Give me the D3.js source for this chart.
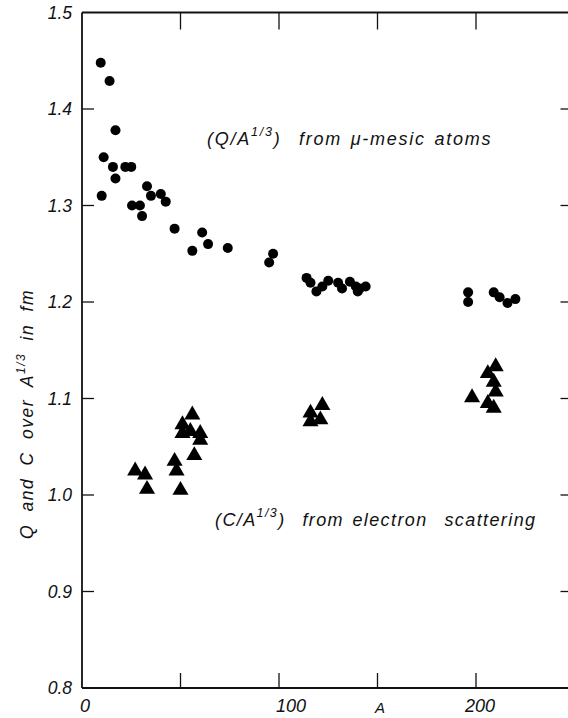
<!DOCTYPE html>
<html>
<head>
<meta charset="utf-8">
<script src="https://cdn.jsdelivr.net/npm/d3@7"></script>
<style>
  body { margin: 0; background: #fff; }
  svg { display: block; }
  text { font-family: "Liberation Sans", Arial, sans-serif; font-style: italic; fill: #111; white-space: pre; }
</style>
</head>
<body>
<svg id="chart" width="568" height="718"></svg>
<script>
// Q/A^(1/3) from mu-mesic atoms
const qMass = [9.5, 14, 17, 11, 15.7, 17, 10, 22, 25, 33, 35, 40, 42.5, 25.4, 29.4, 30.5, 47, 61, 56, 64, 74, 97, 95,
               114, 116, 119, 122, 125, 130, 132, 136, 139, 140, 141, 144,
               196, 196, 209, 212, 216, 220];
const qValues = [1.448, 1.429, 1.378, 1.350, 1.340, 1.328, 1.310, 1.340, 1.340, 1.320, 1.310, 1.312, 1.304, 1.300, 1.300, 1.289, 1.276, 1.272, 1.253, 1.260, 1.256, 1.250, 1.241,
                 1.225, 1.220, 1.211, 1.216, 1.222, 1.220, 1.214, 1.221, 1.216, 1.211, 1.214, 1.216,
                 1.210, 1.200, 1.210, 1.205, 1.199, 1.203];
// C/A^(1/3) from electron scattering
const cMass = [56, 51, 51, 55, 60, 60, 57, 47, 48, 27, 32, 33, 50,
               116, 122, 121, 116,
               198, 210, 206, 209, 210, 206, 209];
const cValues = [1.083, 1.073, 1.064, 1.066, 1.064, 1.057, 1.041, 1.035, 1.025, 1.025, 1.021, 1.006, 1.005,
                 1.085, 1.093, 1.078, 1.076,
                 1.101, 1.133, 1.126, 1.117, 1.107, 1.095, 1.090];
const yTicks = [0.8, 0.9, 1.0, 1.1, 1.2, 1.3, 1.4, 1.5];
const yInnerTicks = [0.9, 1.0, 1.1, 1.2, 1.3, 1.4];
const xTicks = [50, 100, 150, 200];
const xTickLabels = [0, 100, 200];
const xLabelShift = [3, 12, 4];

const svg = d3.select("#chart");
svg.append("rect").attr("width", 568).attr("height", 718).attr("fill", "#fff");

const x = d3.scaleLinear().domain([0, 250]).range([82, 574.5]);
const y = d3.scaleLinear().domain([0.8, 1.5]).range([688, 12.5]);

const axisColor = "#111";
// frame
const frame = svg.append("g").attr("stroke", axisColor).attr("stroke-width", 1.8).attr("fill", "none");
frame.append("line").attr("x1", x(0)).attr("x2", x(250)).attr("y1", y(0.8)).attr("y2", y(0.8));
frame.append("line").attr("x1", x(0)).attr("x2", x(250)).attr("y1", y(1.5)).attr("y2", y(1.5));
frame.append("line").attr("x1", x(0)).attr("x2", x(0)).attr("y1", y(0.8)).attr("y2", y(1.5));
frame.append("line").attr("x1", x(250)).attr("x2", x(250)).attr("y1", y(0.8)).attr("y2", y(1.5));

// ticks (inward)
const ticks = svg.append("g").attr("stroke", axisColor).attr("stroke-width", 1.3);
yInnerTicks.forEach(v => {
  ticks.append("line").attr("x1", x(0)).attr("x2", x(0) + 12).attr("y1", y(v)).attr("y2", y(v));
  ticks.append("line").attr("x1", x(250)).attr("x2", x(250) - 14).attr("y1", y(v)).attr("y2", y(v));
});
xTicks.forEach(v => {
  ticks.append("line").attr("x1", x(v)).attr("x2", x(v)).attr("y1", y(0.8)).attr("y2", y(0.8) - 15);
  ticks.append("line").attr("x1", x(v)).attr("x2", x(v)).attr("y1", y(1.5)).attr("y2", y(1.5) + 17);
});

// tick labels
svg.append("g").selectAll("text").data(yTicks).join("text")
  .attr("x", 72).attr("y", d => y(d) + 6)
  .attr("text-anchor", "end").attr("font-size", 17.5)
  .text(d => d.toFixed(1));
svg.append("g").selectAll("text").data(xTickLabels).join("text")
  .attr("x", (d, i) => x(d) + xLabelShift[i]).attr("y", 712)
  .attr("text-anchor", "middle").attr("font-size", 18)
  .text(d => d);
svg.append("text").attr("x", 380).attr("y", 713).attr("text-anchor", "middle").attr("font-size", 15).text("A");

// y axis title
const yt = svg.append("text")
  .attr("transform", "translate(33,414) rotate(-90)")
  .attr("text-anchor", "middle").attr("font-size", 17.5)
  .attr("letter-spacing", 1.5).attr("word-spacing", 6);
yt.append("tspan").text("Q and C over A");
yt.append("tspan").attr("dy", -8).attr("font-size", 12).text("1/3");
yt.append("tspan").attr("dy", 8).text(" in fm");

// annotations
const a1 = svg.append("text").attr("x", 207).attr("y", 145).attr("font-size", 18)
  .attr("letter-spacing", 1.75).attr("word-spacing", 2);
a1.append("tspan").text("(Q/A");
a1.append("tspan").attr("dy", -9).attr("font-size", 12.5).text("1/3");
a1.append("tspan").attr("dy", 9).text(")  from \u03BC-mesic atoms");

const a2 = svg.append("text").attr("x", 215).attr("y", 526).attr("font-size", 18)
  .attr("letter-spacing", 1.4).attr("word-spacing", 2);
a2.append("tspan").text("(C/A");
a2.append("tspan").attr("dy", -9).attr("font-size", 12.5).text("1/3");
a2.append("tspan").attr("dy", 9).text(")  from electron  scattering");

// markers
const qData = qMass.map((m, i) => ({ a: m, v: qValues[i] }));
const cData = cMass.map((m, i) => ({ a: m, v: cValues[i] }));

svg.append("g").selectAll("circle").data(qData).join("circle")
  .attr("cx", d => x(d.a)).attr("cy", d => y(d.v)).attr("r", 5)
  .attr("fill", "#000");

const tri = d3.symbol().type(d3.symbolTriangle).size(112);
svg.append("g").selectAll("path").data(cData).join("path")
  .attr("transform", d => `translate(${x(d.a)},${y(d.v)})`)
  .attr("d", tri).attr("fill", "#000");
</script>
</body>
</html>
